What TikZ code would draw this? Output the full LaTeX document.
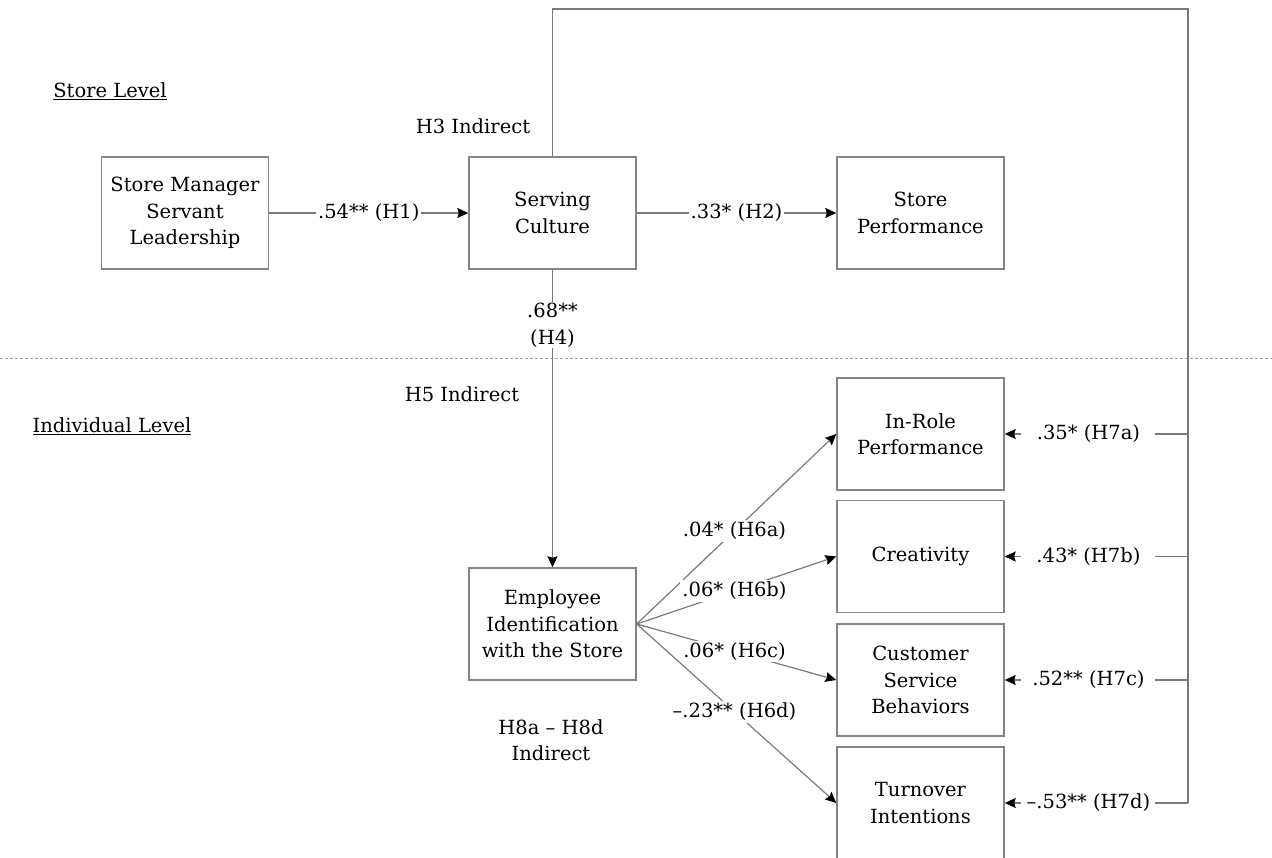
\documentclass[tikz,border=0pt]{standalone}
\usepackage{fontspec}
\setmainfont{DejaVu Serif}
\usetikzlibrary{arrows.meta}
\definecolor{linegray}{HTML}{7A7A7A}
\definecolor{boxgray}{HTML}{858585}
\definecolor{dashgray}{HTML}{A0A0A0}
\begin{document}
\begin{tikzpicture}[x=1pt,y=-1pt, font=\fontsize{19.5}{26.5}\selectfont,
  box/.style={draw=boxgray, line width=1.4pt, minimum width=167pt, minimum height=112pt, align=center, inner sep=2pt},
  conn/.style={draw=linegray, line width=1.2pt},
  arr/.style={conn, -{Stealth[length=11pt,width=10pt,inset=1.5pt,black]}},
  lbl/.style={fill=white, inner sep=2pt, text=black},
  seven/.style={lbl, minimum width=134pt, pos=0.543},
  plain/.style={inner sep=0pt, align=center}]
\useasboundingbox (0,0) rectangle (1272,858);
\clip (0,0) rectangle (1272,858);

% level separator
\coordinate (dl) at (0,359);
\coordinate (dr) at (1272,359);
\draw[dashgray, line width=1pt, dash pattern=on 3pt off 2pt] (dl) -- (dr);

% boxes
\node[box] (SL) at (185,213) {Store Manager\\Servant\\Leadership};
\node[box] (SC) at (552.5,213) {Serving\\Culture};
\node[box] (SP) at (920.5,213) {Store\\Performance};
\node[box] (EI) at (552.5,624) {Employee\\Identification\\with the Store};
\node[box] (IR) at (920.5,434) {In-Role\\Performance};
\node[box] (CR) at (920.5,556.5) {Creativity};
\node[box] (CS) at (920.5,680) {Customer\\Service\\Behaviors};
\node[box] (TI) at (920.5,803) {Turnover\\Intentions};

% free texts
\node[plain] (stl) at (110,91) {\underline{Store Level}};
\node[plain] (h3) at (473,126) {H3 Indirect};
\node[plain] (h5) at (462,394) {H5 Indirect};
\node[plain] (ill) at (112,426) {\underline{Individual Level}};
\node[plain] (h8) at (551,740) {H8a – H8d\\Indirect};

% store level paths
\draw[arr] (SL) -- node[lbl]{.54** (H1)} (SC);
\draw[arr] (SC) -- node[lbl]{.33* (H2)} (SP);
\draw[arr] (SC.south) -- node[lbl, pos=0.187, align=center, inner ysep=1pt]{.68**\\(H4)} (EI.north);

% fan
\draw[arr] (EI.east) -- node[lbl, pos=0.49]{.04* (H6a)} (IR.west);
\draw[arr] (EI.east) -- node[lbl, pos=0.49]{.06* (H6b)} (CR.west);
\draw[arr] (EI.east) -- node[lbl, pos=0.49]{.06* (H6c)} (CS.west);
\draw[arr] (EI.east) -- node[lbl, pos=0.49]{–.23** (H6d)} (TI.west);

% feedback bracket
\coordinate (top2) at (1188,9);
\coordinate (ta) at (1188,434);
\coordinate (tb) at (1188,556.5);
\coordinate (tc) at (1188,680);
\coordinate (td) at (1188,803);
\draw[conn] (SC.north) |- (top2) -- (td);
\draw[arr] (ta) -- node[seven]{.35* (H7a)} (IR.east);
\draw[arr] (tb) -- node[seven]{.43* (H7b)} (CR.east);
\draw[arr] (tc) -- node[seven]{.52** (H7c)} (CS.east);
\draw[arr] (td) -- node[seven]{–.53** (H7d)} (TI.east);
\end{tikzpicture}
\end{document}
